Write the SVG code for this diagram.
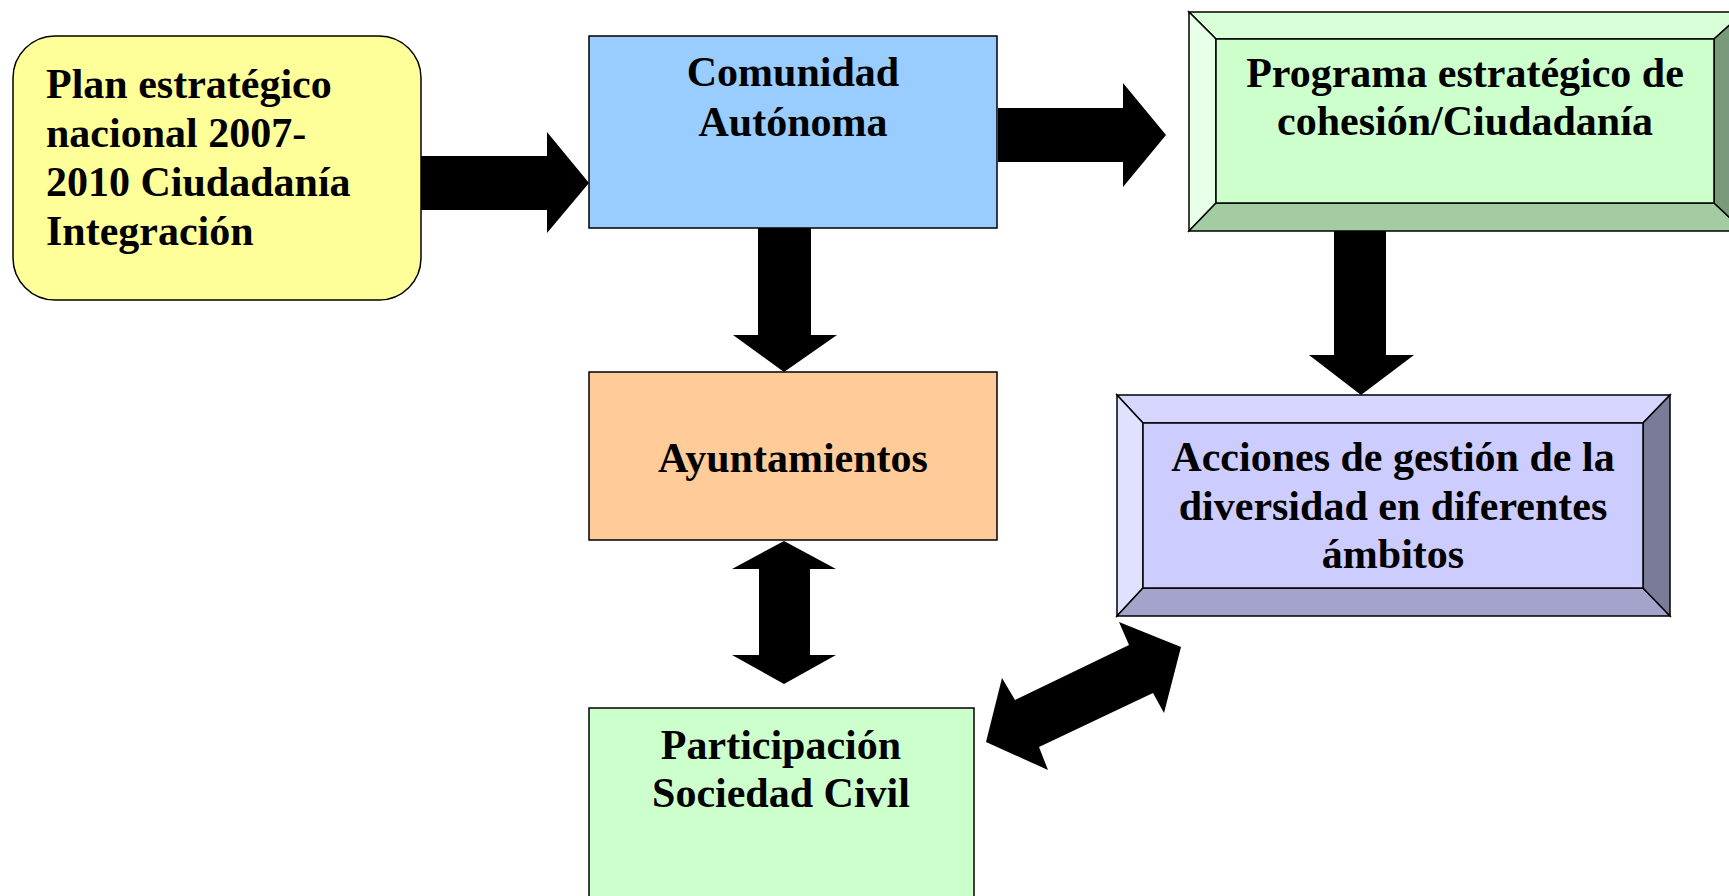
<svg xmlns="http://www.w3.org/2000/svg" width="1729" height="896" viewBox="0 0 1729 896">
<style>
.t{font-family:"Liberation Serif","Times New Roman",serif;font-weight:bold;font-size:42px;fill:#000}
.c{text-anchor:middle}
.box{stroke:#000;stroke-width:1.5}
.bev{stroke:#000;stroke-width:1.5;stroke-linejoin:miter}
.arr{fill:#000;stroke:none}
</style>
<rect width="1729" height="896" fill="#fff"/>
<g id="connectors">
<polygon class="arr" points="421,156 547,156 547,132 589,183 547,233 547,210 421,210"/>
<polygon class="arr" points="998,108 1123,108 1123,83 1166,135 1123,187 1123,162 998,162"/>
<polygon class="arr" points="758,228 811,228 811,335 837,335 784,372 733,335 758,335"/>
<polygon class="arr" points="1334,228 1386,228 1386,355 1414,355 1361,395 1309,355 1334,355"/>
<polygon class="arr" points="784,541 836,569 810,569 810,655 836,655 784,684 732,655 759,655 759,569 732,569"/>
<polygon class="arr" points="986,742 1002,678 1015,700 1129,645 1119,622 1181,647 1164,713 1153,693 1039,747 1048,770"/>
</g>
<g id="plan">
<rect class="box" x="13" y="36" width="408" height="264" rx="42" ry="42" fill="#FFFF99"/>
<text class="t" x="46" y="98">Plan estratégico</text>
<text class="t" x="46" y="147">nacional 2007-</text>
<text class="t" x="46" y="196">2010 Ciudadanía</text>
<text class="t" x="46" y="245">Integración</text>
</g>
<g id="comunidad">
<rect class="box" x="589" y="36" width="408" height="192" fill="#99CCFF"/>
<text class="t c" x="793" y="86">Comunidad</text>
<text class="t c" x="793" y="136">Autónoma</text>
</g>
<g id="programa">
<polygon class="bev" points="1189,12 1744,12 1714,39 1216,39" fill="#D9FFD9"/>
<polygon class="bev" points="1189,12 1216,39 1216,203 1189,231" fill="#E6FFE6"/>
<polygon class="bev" points="1189,231 1216,203 1714,203 1744,231" fill="#A3CCA3"/>
<polygon class="bev" points="1744,12 1714,39 1714,203 1744,231" fill="#7A997A"/>
<rect class="box" x="1216" y="39" width="498" height="164" fill="#CCFFCC"/>
<text class="t c" x="1465" y="87">Programa estratégico de</text>
<text class="t c" x="1465" y="135">cohesión/Ciudadanía</text>
</g>
<g id="ayuntamientos">
<rect class="box" x="589" y="372" width="408" height="168" fill="#FFCC99"/>
<text class="t c" x="793" y="472">Ayuntamientos</text>
</g>
<g id="acciones">
<polygon class="bev" points="1117,395 1670,395 1643,423 1143,423" fill="#D6D6FF"/>
<polygon class="bev" points="1117,395 1143,423 1143,588 1117,616" fill="#E0E0FF"/>
<polygon class="bev" points="1117,616 1143,588 1643,588 1670,616" fill="#A3A3CC"/>
<polygon class="bev" points="1670,395 1643,423 1643,588 1670,616" fill="#7A7A99"/>
<rect class="box" x="1143" y="423" width="500" height="165" fill="#CCCCFF"/>
<text class="t c" x="1393" y="471">Acciones de gestión de la</text>
<text class="t c" x="1393" y="520">diversidad en diferentes</text>
<text class="t c" x="1393" y="568">ámbitos</text>
</g>
<g id="participacion">
<rect class="box" x="589" y="708" width="385" height="200" fill="#CCFFCC"/>
<text class="t c" x="781" y="759">Participación</text>
<text class="t c" x="781" y="807">Sociedad Civil</text>
</g>
</svg>
